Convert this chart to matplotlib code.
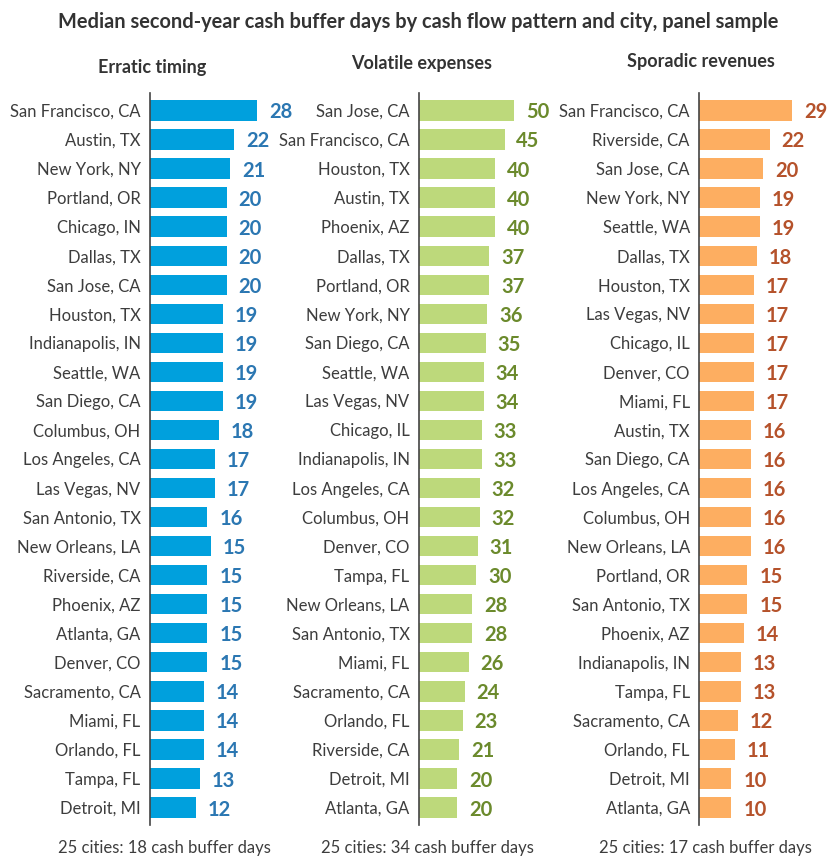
import matplotlib
matplotlib.use("Agg")
import matplotlib.pyplot as plt

# ---------------- data ----------------
erratic_cities = ["San Francisco, CA", "Austin, TX", "New York, NY", "Portland, OR", "Chicago, IN",
                  "Dallas, TX", "San Jose, CA", "Houston, TX", "Indianapolis, IN", "Seattle, WA",
                  "San Diego, CA", "Columbus, OH", "Los Angeles, CA", "Las Vegas, NV", "San Antonio, TX",
                  "New Orleans, LA", "Riverside, CA", "Phoenix, AZ", "Atlanta, GA", "Denver, CO",
                  "Sacramento, CA", "Miami, FL", "Orlando, FL", "Tampa, FL", "Detroit, MI"]
erratic_bars = [28, 22, 21, 20, 20, 20, 20, 19, 19, 19, 19, 18, 17, 17, 15, 16, 15, 15, 15, 15, 14, 14, 14, 13, 12]
erratic_labels = [28, 22, 21, 20, 20, 20, 20, 19, 19, 19, 19, 18, 17, 17, 16, 15, 15, 15, 15, 15, 14, 14, 14, 13, 12]

volatile_cities = ["San Jose, CA", "San Francisco, CA", "Houston, TX", "Austin, TX", "Phoenix, AZ",
                   "Dallas, TX", "Portland, OR", "New York, NY", "San Diego, CA", "Seattle, WA",
                   "Las Vegas, NV", "Chicago, IL", "Indianapolis, IN", "Los Angeles, CA", "Columbus, OH",
                   "Denver, CO", "Tampa, FL", "New Orleans, LA", "San Antonio, TX", "Miami, FL",
                   "Sacramento, CA", "Orlando, FL", "Riverside, CA", "Detroit, MI", "Atlanta, GA"]
volatile_bars = [50, 45, 40, 40, 40, 37, 37, 36, 35, 34, 34, 33, 33, 32, 32, 31, 30, 28, 28, 26, 24, 23, 21, 20, 20]
volatile_labels = volatile_bars

sporadic_cities = ["San Francisco, CA", "Riverside, CA", "San Jose, CA", "New York, NY", "Seattle, WA",
                   "Dallas, TX", "Houston, TX", "Las Vegas, NV", "Chicago, IL", "Denver, CO",
                   "Miami, FL", "Austin, TX", "San Diego, CA", "Los Angeles, CA", "Columbus, OH",
                   "New Orleans, LA", "Portland, OR", "San Antonio, TX", "Phoenix, AZ", "Indianapolis, IN",
                   "Tampa, FL", "Sacramento, CA", "Orlando, FL", "Detroit, MI", "Atlanta, GA"]
sporadic_bars = [29, 22, 20, 19, 19, 18, 17, 17, 17, 17, 17, 16, 16, 16, 16, 16, 15, 15, 14, 13, 13, 12, 11, 10, 10]
sporadic_labels = sporadic_bars

panel_titles = ["Erratic timing", "Volatile expenses", "Sporadic revenues"]
footers = ["25 cities: 18 cash buffer days", "25 cities: 34 cash buffer days", "25 cities: 17 cash buffer days"]
title = "Median second-year cash buffer days by cash flow pattern and city, panel sample"

# ---------------- fonts ----------------
plt.rcParams["font.family"] = ["Lato", "DejaVu Sans"]

W, H = 828, 859
fig = plt.figure(figsize=(W / 100, H / 100), dpi=100)

TXT = "#3d3d3d"
panels = [
    (erratic_cities, erratic_bars, erratic_labels, "#00a0dd", "#2b77b2", 150.3, 125, 32.8),
    (volatile_cities, volatile_bars, volatile_labels, "#bdd97b", "#6b8a2c", 419.3, 125, 66.0),
    (sporadic_cities, sporadic_bars, sporadic_labels, "#fdae61", "#b5522b", 699.5, 110, 34.4),
]
ax_top, ax_bot = 93, 825
for i, (cities, bars, labels, bcol, lcol, left, width, xmax) in enumerate(panels):
    ax = fig.add_axes([left / W, (H - ax_bot) / H, width / W, (ax_bot - ax_top) / H])
    y = list(range(len(cities)))
    ax.barh(y, bars, height=0.7, color=bcol, zorder=2)
    for yi, v, lab in zip(y, bars, labels):
        ax.annotate(str(lab), (v, yi), xytext=(8.5, 0), textcoords="offset points",
                    ha="left", va="center_baseline", fontsize=14.5, fontweight="bold", color=lcol)
    ax.set_ylim(len(cities) - 0.4, -0.6)
    ax.set_xlim(0, xmax)
    ax.set_yticks(y)
    ax.set_yticklabels(cities, fontsize=12, color=TXT)
    ax.tick_params(axis="y", length=0, pad=7)
    ax.set_xticks([])
    for s in ["top", "right", "bottom"]:
        ax.spines[s].set_visible(False)
    ax.spines["left"].set_color("#444444")
    ax.spines["left"].set_linewidth(1.2)
    ax.patch.set_alpha(0)

fig.text(418 / W, 1 - 22 / H, title, ha="center", va="center", fontsize=14.4, fontweight="bold", color="#333333")
sub_pos = [(152, 68), (422, 63), (701, 61)]
for (x, yy), t in zip(sub_pos, panel_titles):
    fig.text(x / W, 1 - yy / H, t, ha="center", va="center", fontsize=13, fontweight="bold", color="#333333")
foot_pos = [164, 427, 705]
for x, t in zip(foot_pos, footers):
    fig.text(x / W, 1 - 848 / H, t, ha="center", va="center", fontsize=12, color=TXT)

fig.savefig("out.png", dpi=100, facecolor="white")
